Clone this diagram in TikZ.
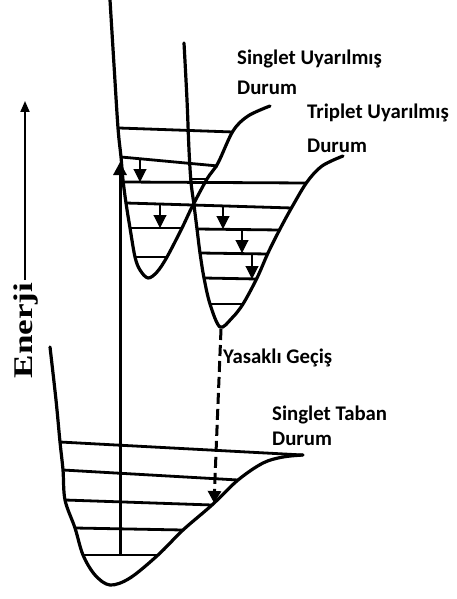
\documentclass[tikz,border=0pt]{standalone}
\usepackage{fontspec}
\setmainfont{Carlito}
\newfontfamily\enfont{Liberation Serif}
\usetikzlibrary{arrows.meta}
\begin{document}
\begin{tikzpicture}[x=1pt,y=-1pt,
  curve/.style={line width=3.2pt, line cap=round, line join=round},
  level/.style={line width=2.8pt},
  smallarr/.style={line width=1.1pt, -{Triangle[width=13pt,length=13pt]}},
  bigarr/.style={line width=3pt, -{Triangle[width=13pt,length=13pt]}},
  dasharr/.style={line width=3pt, dash pattern=on 11pt off 5pt, -{Triangle[width=13pt,length=12pt]}},
  axarr/.style={line width=1.9pt, -{Triangle[width=9pt,length=11pt]}},
  lbl/.style={anchor=base west, inner sep=0pt, font=\bfseries\fontsize{20.8}{24}\selectfont}]
\fill[white] (0,0) rectangle (457,599);
\useasboundingbox (0,0) rectangle (457,599);

% Singlet excited state S1
\draw[curve] plot[smooth, tension=0.55] coordinates {(110,0) (114,65) (118,128) (121,157) (123,180) (126,203) (130,228) (135,257) (140,270) (148,278) (157,272) (167,257) (182,228) (192,207) (207,179) (218,163) (233,131) (248,116) (270,106)};
% Triplet excited state T1
\draw[curve] plot[smooth, tension=0.55] coordinates {(184,43) (187,100) (189,150) (191,182) (194,205) (197,229) (200,253) (204,278) (210,304) (220,327) (232,318) (243,304) (257,278) (268,253) (280,229) (292,207) (307,182) (322,166) (343,156)};
% Ground state S0
\draw[curve] plot[smooth, tension=0.55] coordinates {(50,347) (56,400) (60,442) (63,470) (65,500) (75,528) (83,555) (95,575) (110,585) (130,578) (158,555) (183,530) (212,505) (238,480) (263,463) (283,457) (303,455)};

% S1 levels
\draw[level] (119,128) -- (233,132);
\draw[level] (121,157) -- (218,166);
\draw[level] (192,179) -- (207,179);
\draw[level] (123,182) -- (307,183);
\draw[level] (126,203) -- (292,208);
\draw[level] (130,228) -- (182,228);
\draw[level] (135,257) -- (167,257);
% T1 levels
\draw[level] (197,229) -- (280,230);
\draw[level] (200,253) -- (268,254);
\draw[level] (204,278) -- (257,279);
\draw[level] (210,304) -- (243,304);
% S0 levels
\draw[level] (60,442) -- (303,455);
\draw[level] (63,470) -- (238,480);
\draw[level] (65,500) -- (212,505);
\draw[level] (75,528) -- (183,530);
\draw[level] (83,555) -- (158,555);

% relaxation arrows
\coordinate (a1s) at (140,159); \coordinate (a1e) at (140,182);
\coordinate (a2s) at (160,204); \coordinate (a2e) at (160,228);
\coordinate (b1s) at (223,206); \coordinate (b1e) at (223,229);
\coordinate (b2s) at (242,230); \coordinate (b2e) at (242,253);
\coordinate (b3s) at (252,254); \coordinate (b3e) at (252,279);
\draw[smallarr] (a1s) -- (a1e);
\draw[smallarr] (a2s) -- (a2e);
\draw[smallarr] (b1s) -- (b1e);
\draw[smallarr] (b2s) -- (b2e);
\draw[smallarr] (b3s) -- (b3e);

% absorption arrow
\coordinate (abs0) at (120,555); \coordinate (abs1) at (120,162);
\draw[bigarr] (abs0) -- (abs1);

% forbidden transition
\coordinate (ff0) at (221,329); \coordinate (ff1) at (214,503);
\draw[dasharr] (ff0) -- (ff1);

% energy axis
\coordinate (ax0) at (25,280); \coordinate (ax1) at (25,101);
\draw[axarr] (ax0) -- (ax1);
\node[rotate=90, anchor=base, inner sep=0pt, font=\enfont\bfseries\fontsize{27}{30}\selectfont] (en) at (32,330.5) {\scalebox{1.3}[1]{Enerji}};

% labels
\node[lbl] (s1a) at (237,65) {Singlet Uyarılmış};
\node[lbl] (s1b) at (237,95) {Durum};
\node[lbl] (t1a) at (307,118) {Triplet Uyarılmış};
\node[lbl] (t1b) at (307,152) {Durum};
\node[lbl] (ys) at (223,363) {Yasaklı Geçiş};
\node[lbl] (s0a) at (272,420) {Singlet Taban};
\node[lbl] (s0b) at (272,445) {Durum};
\end{tikzpicture}
\end{document}
